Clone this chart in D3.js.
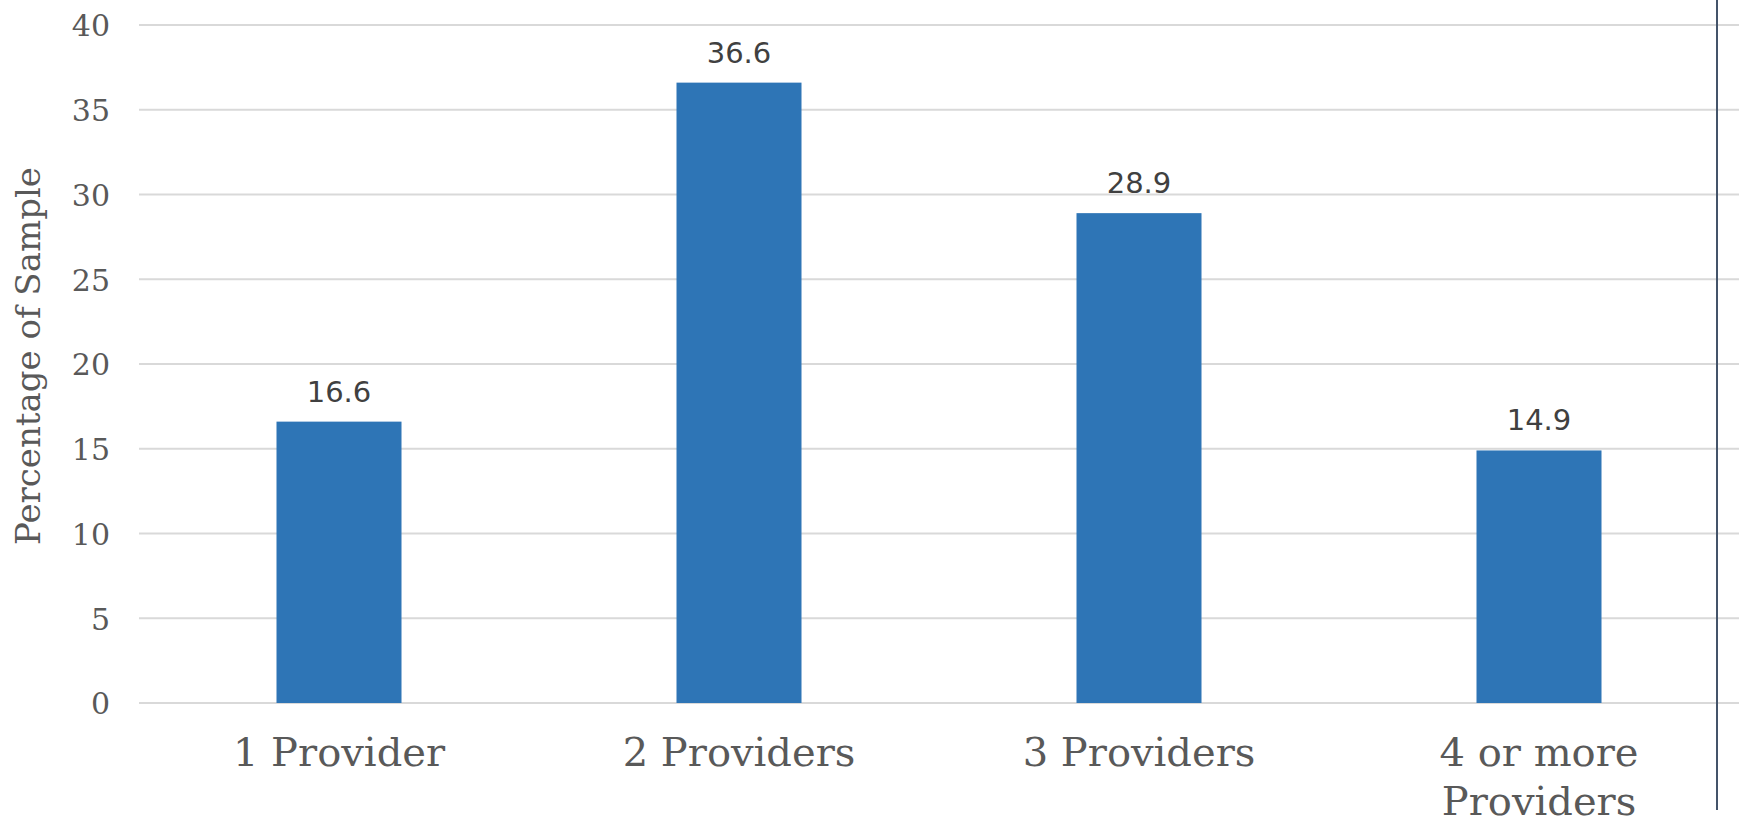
<!DOCTYPE html>
<html>
<head>
<meta charset="utf-8">
<script src="https://cdn.jsdelivr.net/npm/d3@7"></script>
<style>
  html, body { margin: 0; padding: 0; background: #fff; }
  svg { display: block; }
</style>
</head>
<body>
<script>
const categories = ["1 Provider", "2 Providers", "3 Providers", "4 or more Providers"];
const categoryLines = [["1 Provider"], ["2 Providers"], ["3 Providers"], ["4 or more", "Providers"]];
const values = [16.6, 36.6, 28.9, 14.9];
const yTicks = [0, 5, 10, 15, 20, 25, 30, 35, 40];
const yTitle = "Percentage of Sample";

(function () {
const W = 1740, H = 819;
const mLeft = 139, mRight = 1739, mTop = 25, mBottom = 703;

const svg = d3.select("body").append("svg").attr("width", W).attr("height", H);

const x = d3.scaleBand().domain(categories).range([mLeft, mRight]).paddingInner(0.6875).paddingOuter(0.34375);
const y = d3.scaleLinear().domain([0, 40]).range([mBottom, mTop]);

// gridlines
svg.append("g").selectAll("line").data(yTicks).join("line")
  .attr("x1", mLeft).attr("x2", mRight)
  .attr("y1", d => y(d)).attr("y2", d => y(d))
  .attr("stroke", "#d9d9d9").attr("stroke-width", 2);

// y axis labels
const yAxis = d3.axisLeft(y).tickValues(yTicks).tickSize(0).tickPadding(0);
const ya = svg.append("g").attr("transform", `translate(110,0)`).call(yAxis);
ya.select(".domain").remove();
ya.selectAll("text")
  .attr("font-family", "DejaVu Serif")
  .attr("font-size", 30)
  .attr("fill", "#595959")
  .attr("dy", "0.36em");

// bars
svg.append("g").selectAll("rect").data(values).join("rect")
  .attr("x", (d, i) => x(categories[i]))
  .attr("width", x.bandwidth())
  .attr("y", d => y(d))
  .attr("height", d => y(0) - y(d))
  .attr("fill", "#2e75b6");

// data labels
svg.append("g").selectAll("text").data(values).join("text")
  .attr("x", (d, i) => x(categories[i]) + x.bandwidth() / 2)
  .attr("y", d => y(d) - 20)
  .attr("text-anchor", "middle")
  .attr("font-family", "DejaVu Sans")
  .attr("font-size", 29)
  .attr("fill", "#404040")
  .text(d => d.toFixed(1));

// x category labels
const xl = svg.append("g").selectAll("text").data(categoryLines).join("text")
  .attr("x", (d, i) => x(categories[i]) + x.bandwidth() / 2)
  .attr("y", 766)
  .attr("text-anchor", "middle")
  .attr("font-family", "DejaVu Serif")
  .attr("font-size", 40)
  .attr("fill", "#595959");
xl.selectAll("tspan").data(d => d).join("tspan")
  .attr("x", function() { return this.parentNode.getAttribute("x"); })
  .attr("dy", (d, i) => i === 0 ? 0 : 49)
  .text(d => d);

// y title
svg.append("text")
  .attr("transform", `translate(40,356) rotate(-90)`)
  .attr("text-anchor", "middle")
  .attr("font-family", "DejaVu Serif")
  .attr("font-size", 34)
  .attr("fill", "#595959")
  .text(yTitle);

// right vertical rule
svg.append("line")
  .attr("x1", 1717).attr("x2", 1717).attr("y1", 0).attr("y2", 810)
  .attr("stroke", "#44546a").attr("stroke-width", 2);
})();
</script>
</body>
</html>
